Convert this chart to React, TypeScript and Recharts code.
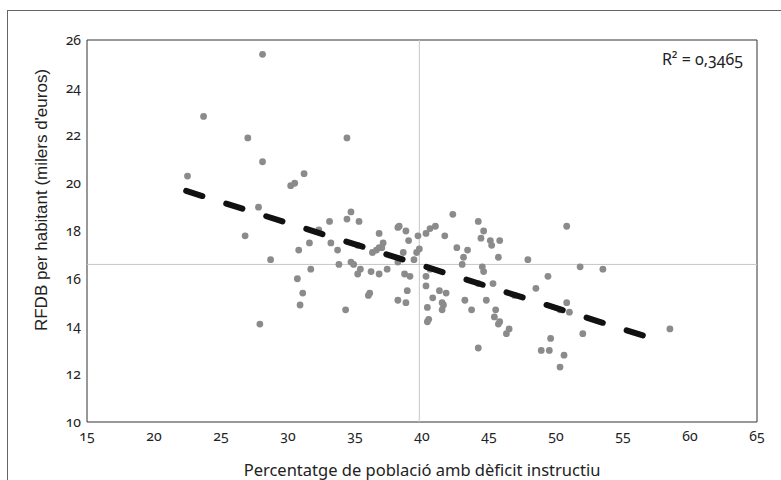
import React from 'react';
import { ScatterChart, Scatter, XAxis, YAxis, ReferenceLine, ReferenceArea } from 'recharts';

// percentatge de població amb dèficit instructiu (x) i RFDB per habitant (y)
const deficit = [
  22.5, 23.7, 28.1, 27.0, 28.1, 30.2, 30.5, 31.2, 27.8, 26.8, 28.7, 27.9,
  33.1, 32.3, 31.6, 33.2, 30.8, 33.7, 33.8, 31.7, 30.7, 31.1, 30.9, 34.3,
  34.4, 34.7, 34.4, 35.3, 34.7, 34.9, 35.2, 35.4, 35.2, 36.0, 36.1, 36.2,
  36.8, 36.8, 36.3, 36.6, 36.8, 37.1, 37.0, 37.4, 38.2, 38.3, 38.8, 39.0,
  38.6, 38.2, 39.4, 39.6, 39.8, 39.7, 38.7, 39.1, 38.9, 38.2, 38.8, 40.3,
  40.6, 41.0, 41.7, 42.3, 40.6, 40.3, 40.3, 41.3, 41.8, 40.8, 40.4, 41.5,
  41.6, 41.5, 40.5, 40.4, 42.6, 43.4, 43.1, 43.0, 44.2, 44.6, 44.4, 45.1,
  45.2, 45.8, 45.7, 44.5, 44.6, 44.2, 45.3, 43.2, 43.7, 44.8, 45.5, 45.4,
  45.8, 45.7, 46.5, 46.3, 46.9, 44.2, 47.9, 48.5, 49.4, 48.9, 49.5, 49.6,
  50.6, 50.3, 50.8, 50.8, 51.0, 50.3, 51.8, 53.5, 52.0, 58.5,
];
const rfdb = [
  20.3, 22.8, 25.4, 21.9, 20.9, 19.9, 20.0, 20.4, 19.0, 17.8, 16.8, 14.1,
  18.4, 18.05, 17.5, 17.5, 17.2, 17.2, 16.6, 16.4, 16.0, 15.4, 14.9, 14.7,
  21.9, 18.8, 18.5, 18.4, 16.7, 16.6, 17.4, 16.4, 16.2, 15.3, 15.4, 16.3,
  16.2, 17.9, 17.1, 17.2, 17.3, 17.5, 17.3, 16.4, 18.15, 18.2, 18.0, 17.6,
  17.1, 16.7, 16.8, 17.1, 17.25, 17.8, 16.2, 16.1, 15.5, 15.1, 15.0, 17.9,
  18.1, 18.2, 17.8, 18.7, 16.4, 16.1, 15.7, 15.5, 15.4, 15.2, 14.8, 15.0,
  14.9, 14.7, 14.3, 14.2, 17.3, 17.2, 16.9, 16.6, 18.4, 18.0, 17.7, 17.6,
  17.4, 17.6, 16.9, 16.5, 16.3, 15.8, 15.8, 15.1, 14.7, 15.1, 14.7, 14.4,
  14.2, 14.1, 13.9, 13.7, 15.3, 13.1, 16.8, 15.6, 16.1, 13.0, 13.0, 13.5,
  12.8, 12.3, 18.2, 15.0, 14.6, 14.7, 16.5, 16.4, 13.7, 13.9,
];

const trendX = [22.4, 56.9];
const trendY = [19.68, 13.55];

const meanX = 39.8;
const meanY = 16.6;

const xTicks = [15, 20, 25, 30, 35, 40, 45, 50, 55, 60, 65];
const yTicks = [10, 12, 14, 16, 18, 20, 22, 24, 26];

const points = deficit.map((x, i) => ({ x, y: rfdb[i] }));
const trend = trendX.map((x, i) => ({ x, y: trendY[i] }));

const tickFont = '"Noto Sans", "Open Sans", sans-serif';

const Dot = (props: any) => <circle cx={props.cx} cy={props.cy} r={3.4} fill="#8b8b8b" />;

const App: React.FC = () => {
  return (
    <div style={{ position: 'fixed', left: 0, top: 0, width: 781, height: 480, overflow: 'hidden', background: '#fff' }}>
      <div style={{ position: 'absolute', left: 7, top: 10, width: 820, height: 520, border: '1px solid #666' }} />
      <div style={{ position: 'absolute', left: 0, top: 0, fontVariantNumeric: 'oldstyle-nums' }}>
        <ScatterChart width={781} height={480} margin={{ top: 40, right: 24, left: 0, bottom: 0 }}>
          <XAxis
            type="number"
            dataKey="x"
            domain={[15, 65]}
            ticks={xTicks}
            axisLine={false}
            tickLine={false}
            tickSize={0}
            tickMargin={9}
            height={58}
            tick={{ fontSize: 14, fill: '#222', fontFamily: tickFont }}
            label={{
              value: 'Percentatge de població amb dèficit instructiu',
              position: 'insideBottom',
              offset: 4,
              style: { fontSize: 16.5, fill: '#222', fontFamily: tickFont },
            }}
          />
          <YAxis
            type="number"
            dataKey="y"
            domain={[10, 26]}
            ticks={yTicks}
            axisLine={false}
            tickLine={false}
            tickSize={0}
            tickMargin={6}
            width={87}
            tick={{ fontSize: 14, fill: '#222', fontFamily: tickFont }}
            label={{
              value: "RFDB per habitant (milers d'euros)",
              angle: -90,
              position: 'insideLeft',
              offset: 0,
              dx: 41,
              dy: -31,
              style: { fontSize: 17, fill: '#222', fontFamily: '"Liberation Sans", Arial, sans-serif', textAnchor: 'middle' },
            }}
          />
          <ReferenceLine x={meanX} stroke="#c6c6c6" strokeWidth={1} />
          <ReferenceLine y={meanY} stroke="#c6c6c6" strokeWidth={1} />
          <ReferenceArea
            x1={15}
            x2={65}
            y1={10}
            y2={26}
            fill="none"
            stroke="#333"
            strokeWidth={1}
            label={{
              value: 'R² = 0,3465',
              position: 'insideTopRight',
              offset: 14,
              style: { fontSize: 16, fill: '#222', fontFamily: tickFont },
            }}
          />
          <Scatter data={points} shape={Dot} isAnimationActive={false} />
          <Scatter
            data={trend}
            shape={() => null}
            line={{ stroke: '#111', strokeWidth: 6, strokeDasharray: '17 25', strokeLinecap: 'round' }}
            lineType="joint"
            isAnimationActive={false}
          />
        </ScatterChart>
      </div>
    </div>
  );
};

export default App;
